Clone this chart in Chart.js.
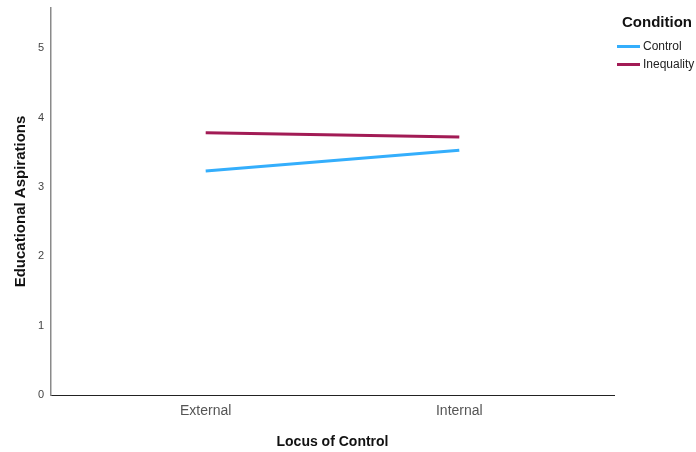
<!DOCTYPE html>
<html>
<head>
<meta charset="utf-8">
<script src="https://cdn.jsdelivr.net/npm/chart.js@4.4.1/dist/chart.umd.min.js"></script>
<style>
  body { margin: 0; background: #fff; font-family: "Liberation Sans", Arial, sans-serif; }
  #wrap { position: relative; width: 696px; height: 452px; }
  #legend { position: absolute; left: 617px; top: 12px; color: #222; }
  #legend .title { font-weight: bold; font-size: 15px; margin-left: 5px; line-height: 20px; color: #111; }
  #legend .item { display: flex; align-items: center; font-size: 12px; line-height: 18px; }
  #legend .title + .item { margin-top: 5px; }
  #legend .swatch { width: 23px; height: 3px; margin-right: 3px; }
</style>
</head>
<body>
<div id="wrap">
  <canvas id="chart" width="696" height="452"></canvas>
  <div id="legend"></div>
</div>
<script>
const categories = ["External", "Internal"];
const conditions = ["Control", "Inequality"];
const controlValues = [3.23, 3.53];
const inequalityValues = [3.78, 3.72];
const yTicks = [0, 1, 2, 3, 4, 5];
const lineColors = ["#34aefc", "#a21b55"];

Chart.defaults.font.family = "'Liberation Sans', Arial, sans-serif";

const seriesValues = [controlValues, inequalityValues];

const chart = new Chart(document.getElementById("chart"), {
  type: "line",
  data: {
    datasets: conditions.map((name, i) => ({
      label: name,
      data: seriesValues[i].map((v, j) => ({ x: j, y: v })),
      borderColor: lineColors[i],
      backgroundColor: lineColors[i],
      borderWidth: 3,
      pointRadius: 0,
      tension: 0
    }))
  },
  options: {
    responsive: false,
    devicePixelRatio: 1,
    animation: false,
    layout: { padding: { top: 8, right: 82, left: 0, bottom: 0 } },
    plugins: { legend: { display: false }, tooltip: { enabled: false } },
    scales: {
      x: {
        type: "linear",
        min: -0.61,
        max: 1.61,
        afterBuildTicks: s => { s.ticks = categories.map((c, i) => ({ value: i })); },
        afterFit: s => { s.height = 57; s.paddingLeft = 0; s.paddingRight = 0; },
        grid: { display: false, drawTicks: false },
        border: { display: true, color: "#222", width: 1 },
        ticks: { callback: v => categories[v], font: { size: 14 }, color: "#555", padding: 8 },
        title: { display: true, text: "Locus of Control", font: { size: 14, weight: "bold" }, color: "#111", padding: { bottom: 1 } }
      },
      y: {
        min: 0,
        max: 5.58,
        afterBuildTicks: s => { s.ticks = yTicks.map(v => ({ value: v })); },
        afterFit: s => { s.width = 51; s.paddingTop = 0; s.paddingBottom = 0; },
        grid: { display: false, drawTicks: false },
        border: { display: true, color: "#8a8a8a", width: 1.5 },
        ticks: { font: { size: 11 }, color: "#444", padding: 7 },
        title: { display: true, text: "Educational Aspirations", font: { size: 15, weight: "bold" }, color: "#111", padding: { top: 12 } }
      }
    }
  }
});

document.getElementById("legend").innerHTML = `<div class="title">Condition</div>` +
  conditions.map((name, i) => `
    <div class="item"><span class="swatch" style="background:${lineColors[i]}"></span>${name}</div>
  `).join("");
</script>
</body>
</html>
